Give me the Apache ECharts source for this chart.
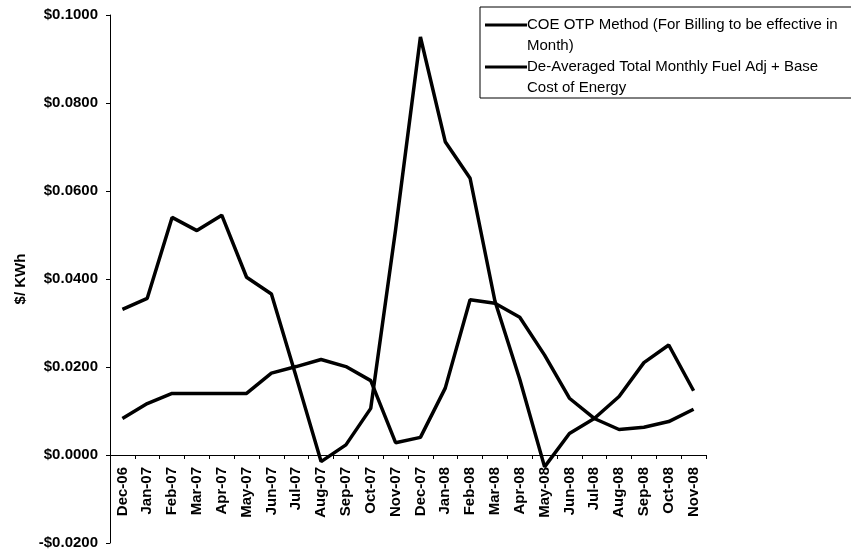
<!DOCTYPE html>
<html lang="en">
<head>
  <meta charset="UTF-8">
  <title>COE OTP vs De-Averaged Fuel Adj</title>
  <style>
    html, body { margin: 0; padding: 0; background: #fff; }
    #chart { width: 851px; height: 554px; }
  </style>
  <script src="https://cdn.jsdelivr.net/npm/echarts@6/dist/echarts.min.js"></script>
</head>
<body>
  <div id="chart"></div>
  <script>
    // months on the x axis
    const months = ['Dec-06', 'Jan-07', 'Feb-07', 'Mar-07', 'Apr-07', 'May-07', 'Jun-07', 'Jul-07',
      'Aug-07', 'Sep-07', 'Oct-07', 'Nov-07', 'Dec-07', 'Jan-08', 'Feb-08', 'Mar-08', 'Apr-08',
      'May-08', 'Jun-08', 'Jul-08', 'Aug-08', 'Sep-08', 'Oct-08', 'Nov-08'];

    // smoother curve
    const coeOtp = [0.0083, 0.0117, 0.0140, 0.0140, 0.0140, 0.0140, 0.0186, 0.0201,
      0.0217, 0.0201, 0.0169, 0.0028, 0.0040, 0.0152, 0.0353, 0.0345, 0.0313,
      0.0227, 0.0129, 0.0083, 0.0058, 0.0063, 0.0076, 0.0104];

    // volatile curve
    const deAveraged = [0.0331, 0.0356, 0.0540, 0.0510, 0.0545, 0.0404, 0.0366, 0.0177,
      -0.0015, 0.0023, 0.0106, 0.0512, 0.0950, 0.0712, 0.0629, 0.0350, 0.0172,
      -0.0027, 0.0049, 0.0083, 0.0133, 0.0210, 0.0250, 0.0146];

    const seriesNames = [
      'COE OTP Method (For Billing to be effective in\nMonth)',
      'De-Averaged Total Monthly Fuel Adj + Base\nCost of Energy'
    ];

    const yMin = -0.02, yMax = 0.1, yStep = 0.02;

    const chart = echarts.init(document.getElementById('chart'));

    function money(v) {
      const s = '$' + Math.abs(v).toFixed(4);
      return v < -1e-9 ? '-' + s : s;
    }

    const lineStyle = { color: '#000', width: 3.5 };
    // legend swatch sits on the first text line (tiny corner dots keep the box 42x42)
    const swatch = 'path://M0,9.5h42v3h-42z M0,0h0.05v0.05h-0.05z M41.95,41.95h0.05v0.05h-0.05z';

    const plotTop = 15, plotBottom = 543;
    // distance from the zero line to the bottom of the plot
    const zeroOffset = (plotBottom - plotTop) * (0 - yMin) / (yMax - yMin);

    chart.setOption({
      animation: false,
      backgroundColor: '#fff',
      textStyle: { fontFamily: 'Liberation Sans, Arial, sans-serif', color: '#000' },
      grid: { left: 110, right: 145, top: plotTop, bottom: 554 - plotBottom, containLabel: false, outerBoundsMode: 'none' },
      legend: {
        orient: 'vertical',
        left: 480,
        top: 7,
        padding: [7, 30, 0, 5],
        itemGap: 0,
        itemWidth: 42,
        itemHeight: 42,
        borderColor: '#000',
        borderWidth: 1,
        backgroundColor: '#fff',
        icon: swatch,
        textStyle: { fontSize: 15, lineHeight: 21, color: '#000', padding: [0, 0, 0, -5] },
        data: seriesNames.map(n => ({ name: n, itemStyle: { color: '#000' } }))
      },
      xAxis: {
        type: 'category',
        data: months,
        boundaryGap: true,
        offset: -zeroOffset,
        axisLine: { onZero: false, lineStyle: { color: '#000', width: 1 } },
        axisTick: { show: true, length: 4, inside: false, lineStyle: { color: '#000' } },
        axisLabel: {
          interval: 0,
          rotate: 90,
          margin: 12,
          fontSize: 15,
          fontWeight: 'bold',
          color: '#000'
        },
        splitLine: { show: false }
      },
      yAxis: {
        type: 'value',
        min: yMin,
        max: yMax,
        interval: yStep,
        name: '$/ KWh',
        nameLocation: 'middle',
        nameGap: 80,
        nameRotate: 90,
        nameTextStyle: { fontSize: 15, fontWeight: 'bold', color: '#000' },
        axisLine: { show: true, lineStyle: { color: '#000', width: 1 } },
        axisTick: { show: true, length: 4, lineStyle: { color: '#000' } },
        axisLabel: {
          formatter: money,
          margin: 12,
          fontSize: 15,
          fontWeight: 'bold',
          color: '#000'
        },
        splitLine: { show: false }
      },
      series: [
        {
          name: seriesNames[0],
          type: 'line',
          data: coeOtp,
          symbol: 'none',
          lineStyle: lineStyle,
          itemStyle: { color: '#000' }
        },
        {
          name: seriesNames[1],
          type: 'line',
          data: deAveraged,
          symbol: 'none',
          lineStyle: lineStyle,
          itemStyle: { color: '#000' }
        }
      ]
    });
  </script>
</body>
</html>
